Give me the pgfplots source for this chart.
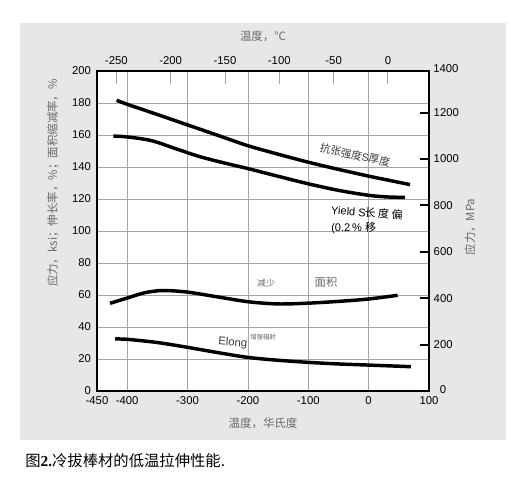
\documentclass[border=0pt]{standalone}
\usepackage{fontspec}
\setmainfont{Liberation Sans}
\newfontfamily\cjk{Noto Sans CJK SC}
\newfontfamily\serifb{Liberation Serif}
\usepackage{pgfplots}
\pgfplotsset{compat=1.18}
\definecolor{panel}{RGB}{230,231,232}
\definecolor{lblgray}{RGB}{105,105,108}
\definecolor{gridc}{RGB}{165,165,165}
\definecolor{anno}{RGB}{60,60,60}

\begin{document}
\begin{tikzpicture}
\begin{scope}[x=0.75pt,y=-0.75pt,shift={(-72.75pt,293.25pt)}]
  \fill[white] (0,0) rectangle (514,485);
  \path[use as bounding box] (0,0) rectangle (514,485);
  \fill[panel] (20,23) rectangle (506,440);
\end{scope}

\pgfplotsset{
  every axis/.append style={
    at={(0,0)}, anchor=south west, scale only axis,
    width=249pt, height=240pt,
    tick label style={font=\fontsize{8.5}{10}\selectfont, text=black},
    /pgf/number format/assume math mode=true,
    /pgf/number format/1000 sep={},
  }
}

\begin{axis}[
  xmin=-450, xmax=100, ymin=0, ymax=200,
  axis background/.style={fill=white},
  xtick={-450,-400,-300,-200,-100,0,100},
  ytick={0,20,...,200},
  xtick pos=bottom, ytick pos=left,
  grid=major, grid style={gridc, line width=0.5pt},
  major tick length=0pt,
  axis line style={line width=1.5pt},
  xticklabel style={yshift=-1pt},
  yticklabel style={xshift=-1pt},
]
\addplot[black, line width=2.6pt, smooth, tension=0.5] coordinates {
(-417.5,181.7) (-400,179.2) (-350,172.8) (-300,166.3) (-250,159.8) (-200,153.3) (-150,148) (-100,143) (-50,138.5) (0,134.3) (40,131.2) (68.6,129)};
\addplot[black, line width=2.6pt, smooth, tension=0.5] coordinates {
(-423,159.3) (-400,158.8) (-360,156.5) (-320,151.5) (-280,146.5) (-240,142.6) (-200,139) (-150,134.2) (-100,129.5) (-50,125.4) (0,122.3) (30,121.3) (60,121)};
\addplot[black, line width=2.6pt, smooth, tension=0.5] coordinates {
(-428.5,54.8) (-400,58.1) (-370,61.5) (-340,62.8) (-300,61.8) (-250,58.8) (-200,55.8) (-150,54.4) (-100,54.9) (-50,56) (0,57.5) (48,59.8)};
\addplot[black, line width=2.6pt, smooth, tension=0.5] coordinates {
(-420,32.5) (-400,32.3) (-350,30.3) (-300,27.3) (-250,24) (-200,21) (-150,19.2) (-100,17.9) (-50,16.9) (0,16.2) (70,15.2)};
\end{axis}

\begin{axis}[
  xmin=-267.78, xmax=37.78, ymin=0, ymax=200,
  axis x line*=top, hide y axis,
  xtick={-250,-200,...,0},
  tick align=inside,
  major tick length=9.75pt,
  xtick style={gridc, line width=0.7pt},
  axis line style={line width=1.5pt},
  xticklabel style={yshift=1pt},
]
\end{axis}

\begin{axis}[
  xmin=-450, xmax=100, ymin=0, ymax=1379,
  axis y line*=right, hide x axis,
  ytick={200,400,...,1200},
  tick align=inside,
  major tick length=6.75pt,
  ytick style={black, line width=1.5pt},
  axis line style={line width=1.5pt},
  yticklabel style={xshift=0pt},
]
\end{axis}

\begin{scope}[x=0.75pt,y=-0.75pt,shift={(-72.75pt,293.25pt)}]
  \node[font=\fontsize{8.5}{10}\selectfont, anchor=west, inner sep=0pt] at (433,69) {1400};
  \node[font=\fontsize{8.5}{10}\selectfont, inner sep=0pt] at (443,390) {0};
  \node[font=\cjk\fontsize{8.6}{10}\selectfont, text=lblgray] at (263,36) {温度，°C};
  \node[font=\cjk\fontsize{8.6}{10}\selectfont, text=lblgray] at (263,423) {温度，华氏度};
  \node[font=\cjk\fontsize{8.6}{10}\selectfont, text=lblgray, rotate=90] at (53,183) {应力，ksi；伸长率，\%；面积缩减率，\%};
  \node[font=\cjk\fontsize{8.6}{10}\selectfont, text=lblgray, rotate=90] at (470,227) {应力，MPa};
  \node[anchor=west, inner sep=0pt, font=\fontsize{11.5}{13}\selectfont] at (25,461) {{\cjk 图}{\serifb\bfseries 2.}{\cjk 冷拔棒材的低温拉伸性能.}};
  % annotations
  \node[font=\cjk\fontsize{8}{10}\selectfont, text=anno, rotate=-12] at (355,155) {抗张强度{\fontspec{Liberation Sans}S}厚度};
  \node[anchor=west, inner sep=0pt, text=black, rotate=-4, font=\fontsize{8.3}{10}\selectfont] at (331,210) {Yield S\kern-0.1em{\cjk 长\ 度\ 偏}};
  \node[anchor=west, inner sep=0pt, text=black, font=\fontsize{8.3}{10}\selectfont] at (331,228) {(0.2\,\% {\cjk 移}};
  \node[font=\cjk\fontsize{6.6}{8}\selectfont, text=lblgray] at (266,283) {减少};
  \node[font=\cjk\fontsize{8.5}{10}\selectfont, text=lblgray] at (326,282) {面积};
  \node[anchor=west, inner sep=0pt, rotate=-5, font=\fontsize{8.5}{10}\selectfont, text=anno] at (218,342) {Elong};
  \node[anchor=west, inner sep=0pt, font=\cjk\fontsize{4.8}{6}\selectfont, text=lblgray] at (250,337) {增强辐射};
\end{scope}
\end{tikzpicture}
\end{document}
